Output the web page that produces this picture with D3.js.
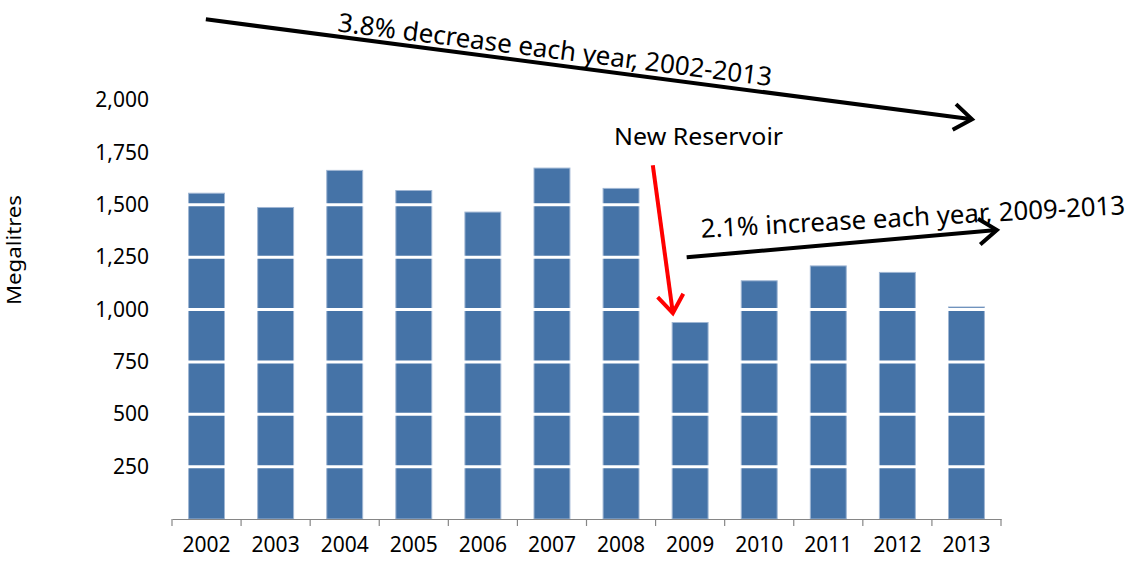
<!DOCTYPE html>
<html>
<head>
<meta charset="utf-8">
<script src="https://cdn.jsdelivr.net/npm/d3@7/dist/d3.min.js"></script>
<style>
  html, body { margin: 0; padding: 0; background: #ffffff; }
  svg { display: block; font-family: "Noto Sans", "Open Sans", sans-serif; }
</style>
</head>
<body>
<svg id="chart" width="1128" height="562"></svg>
<script>
// Annual water use, megalitres
const years = ["2002", "2003", "2004", "2005", "2006", "2007", "2008", "2009", "2010", "2011", "2012", "2013"];
const usage = [1555, 1487, 1664, 1568, 1465, 1675, 1578, 938, 1137, 1208, 1177, 1012];
const yTickValues = [250, 500, 750, 1000, 1250, 1500, 1750, 2000];

const yAxisTitle = "Megalitres";
const trendDownLabel = "3.8% decrease each year, 2002-2013";
const trendUpLabel = "2.1% increase each year, 2009-2013";
const reservoirLabel = "New Reservoir";

const svg = d3.select("#chart");

const plot = { left: 172, right: 1001, top: 100, bottom: 519 };

const x = d3.scaleBand()
  .domain(years)
  .range([plot.left, plot.right])
  .paddingInner(0.48)
  .paddingOuter(0.24);

const y = d3.scaleLinear()
  .domain([0, 2000])
  .range([plot.bottom, plot.top]);

// position by fractional category index (0 = left edge of first category)
const step = x.step();
const xAt = i => plot.left + i * step;

// bars
svg.append("g")
  .selectAll("rect")
  .data(years.map((yr, i) => ({ yr, v: usage[i] })))
  .join("rect")
  .attr("x", d => x(d.yr))
  .attr("y", d => y(d.v))
  .attr("width", x.bandwidth())
  .attr("height", d => y(0) - y(d.v))
  .attr("fill", "#4573a7")
  .attr("stroke", "#9fb6d3")
  .attr("stroke-width", 1);

// white gridlines across the bars
svg.append("g")
  .selectAll("line")
  .data(yTickValues)
  .join("line")
  .attr("x1", plot.left)
  .attr("x2", plot.right)
  .attr("y1", d => y(d))
  .attr("y2", d => y(d))
  .attr("stroke", "#ffffff")
  .attr("stroke-width", 3);

// y axis labels
const yAxis = svg.append("g")
  .attr("transform", `translate(${plot.left},0)`)
  .call(d3.axisLeft(y).tickValues(yTickValues).tickFormat(d3.format(",")).tickSize(0).tickPadding(23));
yAxis.select(".domain").remove();
yAxis.selectAll("text")
  .attr("font-size", 21)
  .attr("font-family", "Noto Sans, sans-serif")
  .attr("fill", "#000");

// x axis
const xAxis = svg.append("g")
  .attr("transform", `translate(0,${plot.bottom})`)
  .call(d3.axisBottom(x).tickSize(0).tickPadding(18));
xAxis.select(".domain")
  .attr("stroke", "#868686")
  .attr("stroke-width", 1.2);
xAxis.selectAll("text")
  .attr("font-size", 21)
  .attr("font-family", "Noto Sans, sans-serif")
  .attr("fill", "#000");
// tick marks at category boundaries
xAxis.append("g")
  .selectAll("line")
  .data(d3.range(years.length + 1))
  .join("line")
  .attr("x1", i => xAt(i))
  .attr("x2", i => xAt(i))
  .attr("y1", 0)
  .attr("y2", 7)
  .attr("stroke", "#868686")
  .attr("stroke-width", 1.2);

// y axis title
svg.append("text")
  .attr("transform", `translate(21,${250}) rotate(-90)`)
  .attr("text-anchor", "middle")
  .attr("font-size", 19)
  .attr("textLength", 110)
  .attr("lengthAdjust", "spacingAndGlyphs")
  .attr("fill", "#000")
  .text(yAxisTitle);

// arrow helper: line with open chevron head
function arrow(g, x1, y1, x2, y2, color, width, head) {
  g.append("line")
    .attr("x1", x1).attr("y1", y1).attr("x2", x2).attr("y2", y2)
    .attr("stroke", color).attr("stroke-width", width).attr("stroke-linecap", "butt");
  const a = Math.atan2(y2 - y1, x2 - x1);
  const spread = Math.PI / 5;
  const p1 = [x2 - head * Math.cos(a - spread), y2 - head * Math.sin(a - spread)];
  const p2 = [x2 - head * Math.cos(a + spread), y2 - head * Math.sin(a + spread)];
  g.append("path")
    .attr("d", `M${p1[0]},${p1[1]}L${x2},${y2}L${p2[0]},${p2[1]}`)
    .attr("fill", "none").attr("stroke", color).attr("stroke-width", width)
    .attr("stroke-linejoin", "miter");
}

const notes = svg.append("g");

// long-term decline
arrow(notes, xAt(0.49), y(2385), xAt(11.58), y(1908), "#000", 4, 22);
{
  const tx = xAt(2.39), ty = y(2328);
  notes.append("text")
    .attr("transform", `translate(${tx},${ty}) rotate(7.2)`)
    .attr("font-size", 26)
    .attr("textLength", 437)
    .attr("lengthAdjust", "spacingAndGlyphs")
    .attr("fill", "#000")
    .text(trendDownLabel);
}

// recovery since the new reservoir
arrow(notes, xAt(7.45), y(1249), xAt(11.94), y(1379), "#000", 4, 22);
{
  const tx = xAt(7.66), ty = y(1342);
  notes.append("text")
    .attr("transform", `translate(${tx},${ty}) rotate(-3.2)`)
    .attr("font-size", 26)
    .attr("textLength", 425)
    .attr("lengthAdjust", "spacingAndGlyphs")
    .attr("fill", "#000")
    .text(trendUpLabel);
}

// reservoir marker
notes.append("text")
  .attr("x", xAt(6.4))
  .attr("y", y(1786))
  .attr("font-size", 23)
  .attr("textLength", 169)
  .attr("lengthAdjust", "spacingAndGlyphs")
  .attr("fill", "#000")
  .text(reservoirLabel);
arrow(notes, xAt(6.96), y(1689), xAt(7.25), y(983), "#ff0000", 4, 22);
</script>
</body>
</html>
